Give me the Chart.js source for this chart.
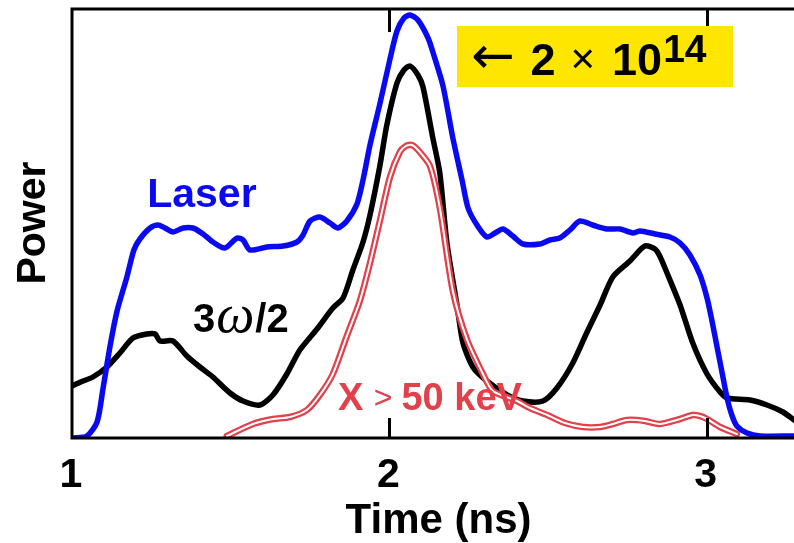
<!DOCTYPE html>
<html lang="en">
<head>
<meta charset="UTF-8">
<title>Power vs Time</title>
<script src="https://cdn.jsdelivr.net/npm/chart.js"></script>
<style>
  body { margin: 0; background: #fff; }
  .chart_area { width: 794px; height: 543px; }
</style>
</head>
<body>
<div class="chart_area">
  <canvas id="powerChart" width="794" height="543"></canvas>
</div>

<script>
// time axis (ns) and power (arbitrary units)
const laserTime = [1.000, 1.047, 1.079, 1.098, 1.120, 1.142, 1.173, 1.195, 1.214, 1.246, 1.271, 1.293, 1.318, 1.350, 1.381, 1.413, 1.444, 1.482, 1.520, 1.539, 1.561, 1.614, 1.665, 1.709, 1.728, 1.750, 1.781, 1.813, 1.838, 1.866, 1.898, 1.917, 1.939, 1.970, 2.002, 2.024, 2.046, 2.065, 2.090, 2.122, 2.137, 2.169, 2.200, 2.229, 2.248, 2.276, 2.307, 2.333, 2.358, 2.389, 2.421, 2.474, 2.506, 2.537, 2.569, 2.600, 2.641, 2.686, 2.727, 2.767, 2.790, 2.837, 2.884, 2.916, 2.947, 2.979, 3.001, 3.016, 3.032, 3.048, 3.064, 3.079, 3.095, 3.127, 3.168, 3.275];
const laserPower = [0, 2, 16, 50, 92, 127, 161, 188, 199, 210, 213, 210, 206, 210, 210, 204, 196, 190, 200, 198, 188, 191, 192, 196, 203, 217, 221, 215, 210, 217, 234, 258, 293, 334, 379, 407, 420, 423, 418, 400, 386, 352, 300, 258, 230, 213, 201, 205, 209, 202, 194, 194, 198, 200, 208, 217, 213, 209, 209, 205, 207, 204, 201, 195, 183, 163, 140, 118, 92, 66, 40, 23, 12, 5, 2, 2];

const halfTime = [1.000, 1.035, 1.066, 1.110, 1.151, 1.192, 1.236, 1.262, 1.277, 1.318, 1.362, 1.403, 1.444, 1.498, 1.539, 1.592, 1.633, 1.677, 1.718, 1.772, 1.822, 1.854, 1.885, 1.917, 1.939, 1.970, 1.992, 2.024, 2.046, 2.065, 2.090, 2.106, 2.137, 2.159, 2.181, 2.213, 2.232, 2.263, 2.307, 2.371, 2.421, 2.484, 2.528, 2.578, 2.623, 2.664, 2.704, 2.758, 2.805, 2.837, 2.852, 2.875, 2.916, 2.956, 3.001, 3.042, 3.064, 3.136, 3.190, 3.240, 3.275];
const halfPower = [52, 57, 61, 71, 85, 100, 104, 104, 97, 97, 82, 71, 61, 45, 37, 33, 43, 64, 88, 109, 130, 140, 168, 196, 223, 272, 313, 355, 368, 372, 363, 351, 300, 265, 196, 133, 95, 71, 57, 43, 37, 37, 50, 75, 106, 133, 161, 177, 192, 189, 182, 165, 133, 95, 64, 46, 40, 38, 33, 26, 18];

const xrayTime = [1.488, 1.570, 1.633, 1.687, 1.740, 1.781, 1.822, 1.866, 1.907, 1.939, 1.970, 2.002, 2.033, 2.052, 2.071, 2.096, 2.128, 2.159, 2.200, 2.244, 2.295, 2.326, 2.402, 2.443, 2.497, 2.553, 2.610, 2.664, 2.704, 2.749, 2.805, 2.852, 2.916, 2.956, 2.979, 3.001, 3.042, 3.095];
const xrayPower = [2, 14, 19, 21, 28, 43, 64, 102, 137, 175, 217, 261, 286, 292, 293, 286, 272, 230, 147, 99, 64, 47, 37, 30, 23, 15, 11, 11, 14, 18, 17, 14, 19, 23, 22, 19, 11, 4];

const tickValues = [1, 2, 3];
const tickLabels = ['1', '2', '3'];

const toPoints = (xs, ys) => xs.map((x, i) => ({ x: x, y: ys[i] }));

const FONT = '"Liberation Sans", Arial, Helvetica, sans-serif';

// frame, inward ticks, axis labels and the text notes
const decorations = {
  id: 'decorations',
  afterDatasetsDraw(chart) {
    const ctx = chart.ctx;
    const xs = chart.scales.x, ys = chart.scales.y;
    const a = chart.chartArea;
    ctx.save();
    ctx.strokeStyle = '#000';
    ctx.lineWidth = 3;
    ctx.beginPath();
    ctx.moveTo(a.right + 2, a.top);
    ctx.lineTo(a.left, a.top);
    ctx.lineTo(a.left, a.bottom);
    ctx.lineTo(a.right + 2, a.bottom);
    ctx.stroke();
    tickValues.slice(1).forEach(v => {
      const px = Math.round(xs.getPixelForValue(v)) + 0.5;
      ctx.beginPath();
      ctx.moveTo(px, a.top); ctx.lineTo(px, a.top + 23);
      ctx.moveTo(px, a.bottom); ctx.lineTo(px, a.bottom - 20);
      ctx.stroke();
    });

    // tick labels
    ctx.fillStyle = '#000';
    ctx.font = 'bold 41px ' + FONT;
    ctx.textAlign = 'center';
    ctx.textBaseline = 'alphabetic';
    tickValues.forEach((v, i) => {
      ctx.fillText(tickLabels[i], xs.getPixelForValue(v) - 1, a.bottom + 49);
    });
    ctx.font = 'bold 42px ' + FONT;
    ctx.fillText('Time (ns)', xs.getPixelForValue(2.155), a.bottom + 95);

    ctx.save();
    ctx.font = 'bold 41px ' + FONT;
    ctx.translate(45, ys.getPixelForValue(215));
    ctx.rotate(-Math.PI / 2);
    ctx.fillText('Power', 0, 0);
    ctx.restore();

    // series notes
    ctx.textAlign = 'left';
    ctx.fillStyle = '#0a0af0';
    ctx.font = 'bold 41px ' + FONT;
    ctx.fillText('Laser', xs.getPixelForValue(1.237), ys.getPixelForValue(231));

    let x = xs.getPixelForValue(1.381);
    const yb = ys.getPixelForValue(106);
    ctx.fillStyle = '#000';
    ctx.font = 'bold 40px ' + FONT;
    ctx.fillText('3', x, yb); x += ctx.measureText('3').width + 1;
    ctx.font = 'italic 54px "Liberation Serif", "DejaVu Serif", serif';
    ctx.fillText('\u03c9', x, yb); x += ctx.measureText('\u03c9').width + 1;
    ctx.font = 'bold 40px ' + FONT;
    ctx.fillText('/2', x, yb);

    ctx.fillStyle = '#e2404a';
    x = xs.getPixelForValue(1.838);
    const yx = ys.getPixelForValue(28);
    ctx.font = 'bold 38px ' + FONT;
    ctx.fillText('X', x, yx); x += ctx.measureText('X ').width;
    ctx.font = '32px ' + FONT;
    ctx.fillText('>', x, yx - 2); x += ctx.measureText('> ').width;
    ctx.font = 'bold 38px ' + FONT;
    ctx.fillText('50 keV', x, yx);

    // yellow box
    const bx0 = xs.getPixelForValue(2.213), bx1 = xs.getPixelForValue(3.083);
    const by0 = ys.getPixelForValue(412), by1 = ys.getPixelForValue(351);
    ctx.fillStyle = '#ffe600';
    ctx.fillRect(bx0, by0, bx1 - bx0, by1 - by0);
    ctx.fillStyle = '#000';
    const base = by0 + 49;
    x = bx0 + 14;
    ctx.font = '52px "DejaVu Sans", ' + FONT;
    ctx.fillText('\u2190', x, base - 2); x += ctx.measureText('\u2190').width + 16;
    ctx.font = 'bold 45px ' + FONT;
    ctx.fillText('2', x, base); x += ctx.measureText('2').width + 15;
    ctx.font = '42px ' + FONT;
    ctx.fillText('\u00d7', x, base - 2); x += ctx.measureText('\u00d7').width + 17;
    ctx.font = 'bold 45px ' + FONT;
    ctx.fillText('10', x, base); x += ctx.measureText('10').width + 1;
    ctx.font = 'bold 39px ' + FONT;
    ctx.fillText('14', x, base - 13);
    ctx.restore();
  }
};

const ctx = document.getElementById('powerChart').getContext('2d');
const powerChart = new Chart(ctx, {
  type: 'line',
  data: {
    datasets: [
      {
        label: 'Laser',
        data: toPoints(laserTime, laserPower),
        borderColor: '#0a0af0',
        borderWidth: 5.5,
        order: 0
      },
      {
        label: 'X > 50 keV inner',
        data: toPoints(xrayTime, xrayPower),
        borderColor: '#ffffff',
        borderWidth: 2,
        order: 1
      },
      {
        label: 'X > 50 keV',
        data: toPoints(xrayTime, xrayPower),
        borderColor: '#e2404a',
        borderWidth: 6.5,
        order: 2
      },
      {
        label: '3w/2',
        data: toPoints(halfTime, halfPower),
        borderColor: '#000000',
        borderWidth: 5.5,
        order: 3
      }
    ]
  },
  options: {
    responsive: false,
    animation: false,
    layout: { padding: { left: 72, top: 9, right: 0, bottom: 105 } },
    elements: {
      point: { radius: 0 },
      line: { tension: 0.25, borderJoinStyle: 'round', borderCapStyle: 'round' }
    },
    scales: {
      x: { type: 'linear', min: 1, max: 3.275, display: false },
      y: { min: 0, max: 429, display: false }
    },
    plugins: {
      legend: { display: false },
      tooltip: { enabled: false }
    }
  },
  plugins: [decorations]
});
</script>
</body>
</html>
